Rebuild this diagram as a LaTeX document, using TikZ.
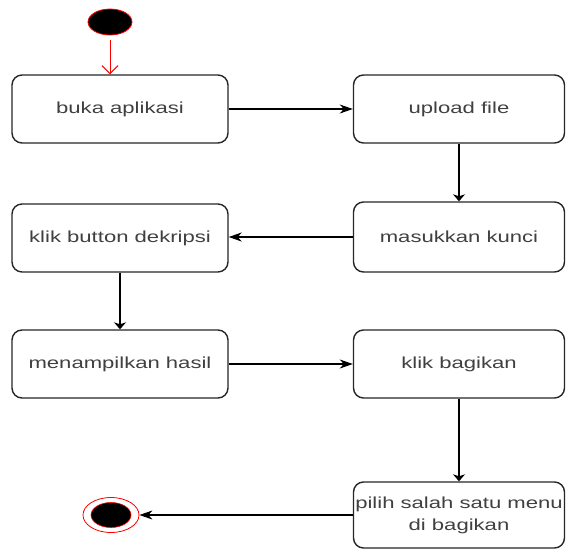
\documentclass[tikz,border=0pt]{standalone}
\usepackage{fontspec}
\setmainfont{Liberation Sans}
\usetikzlibrary{arrows.meta,shapes.geometric}
% labels are set wide, as in the original activity chart
\newcommand{\widelabel}[1]{\scalebox{1.38}[1]{#1}}
\begin{document}
\begin{tikzpicture}[x=1pt,y=-1pt,
  act/.style={draw=black!85, line width=1.4pt, rounded corners=10pt, fill=white,
    minimum height=68pt, inner sep=0pt, text=black!75,
    font=\fontsize{16}{22}\selectfont, align=center},
  leftact/.style={act, minimum width=216pt},
  rightact/.style={act, minimum width=211pt},
  flowh/.style={draw=black, line width=1.1pt, -{Stealth[length=13pt,width=9pt,inset=4pt]}},
  flowv/.style={draw=black, line width=1.1pt, -{Stealth[length=7pt,width=12pt,inset=2pt]}},
  startdot/.style={ellipse, draw=red, fill=black, line width=0.8pt,
    minimum width=44pt, minimum height=26pt, inner sep=0pt},
]
\useasboundingbox (0,0) rectangle (566,550);

% initial state
\node[startdot] (start) at (110,22) {};

% activities
\node[leftact]  (buka)   at (120,109) {\widelabel{buka aplikasi}};
\node[rightact] (upload) at (459,109) {\widelabel{upload file}};
\node[rightact, minimum height=70pt] (kunci) at (459,237) {\widelabel{masukkan kunci}};
\node[leftact]  (dekrip) at (120,238) {\widelabel{klik button dekripsi}};
\node[leftact]  (hasil)  at (120,364) {\widelabel{menampilkan hasil}};
\node[rightact] (bagi)   at (459,364) {\widelabel{klik bagikan}};
\node[rightact, minimum height=66pt] (menu) at (459,515)
  {\widelabel{pilih salah satu menu}\\\widelabel{di bagikan}};

% final state
\node[ellipse, draw=red, fill=white, line width=0.8pt, minimum width=56pt,
  minimum height=35pt, inner sep=0pt] (final) at (111,515) {};
\node[ellipse, draw=red, fill=black, line width=0.6pt, minimum width=40pt,
  minimum height=25pt, inner sep=0pt] (finalin) at (111,515) {};

% transitions
\draw[red, line width=1pt, shorten <=5pt, -{Straight Barb[length=8pt,width=16pt]}]
  (start) -- (buka.north -| start);
\draw[flowh] (buka) -- (upload);
\draw[flowv] (upload.south) -- (kunci.north);
\draw[flowh] (kunci.west) -- (kunci.west -| dekrip.east);
\draw[flowv] (dekrip.south) -- (hasil.north);
\draw[flowh] (hasil) -- (bagi);
\draw[flowv] (bagi.south) -- (menu.north);
\draw[flowh] (menu.west) -- (final.east);
\end{tikzpicture}
\end{document}
